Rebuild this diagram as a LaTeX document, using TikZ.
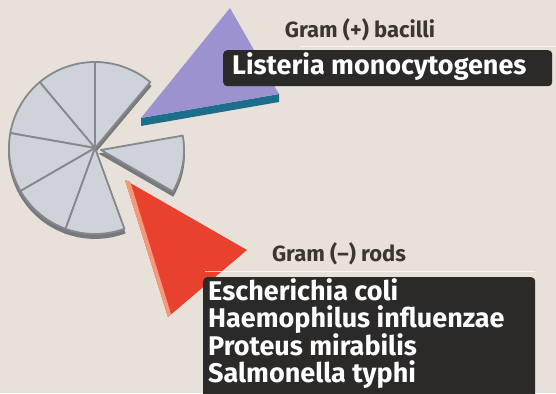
\documentclass[tikz,border=0pt]{standalone}
\usepackage{fontspec}
\setmainfont{Fira Sans}
\usetikzlibrary{positioning,calc}

\definecolor{bgbeige}{HTML}{E8E1D9}
\definecolor{slicefill}{HTML}{CED3DA}
\definecolor{sliceline}{HTML}{86888B}
\definecolor{slicerim}{HTML}{77797C}
\definecolor{gpurple}{HTML}{9B92CF}
\definecolor{gteal}{HTML}{1D6E8A}
\definecolor{gred}{HTML}{E8412E}
\definecolor{gredlight}{HTML}{F39A7C}
\definecolor{boxdark}{HTML}{2C2929}
\definecolor{labelgray}{HTML}{3A3634}

\tikzset{
  slice/.style={fill=slicefill, draw=sliceline, line width=1.8pt, line join=round},
  rim/.style={fill=slicerim, draw=slicerim, line width=1.8pt},
  groupname/.style={font=\bfseries\fontsize{22}{24}\selectfont, text=labelgray, inner sep=0pt},
  namebox/.style={fill=boxdark, rounded corners=4pt},
  species/.style={font=\bfseries\fontsize{27}{30}\selectfont, text=white, inner sep=0pt, anchor=base west}
}

\begin{document}
\begin{tikzpicture}[x=1pt, y=-1pt]
  \fill[bgbeige] (0,0) rectangle (556,393);
  \useasboundingbox (0,0) rectangle (556,393);

  % pie of gray slices (y runs downwards, so angles are negated)
  \coordinate (pc) at (95,148);
  \foreach \a/\b in {90/130, 130/170, 170/210, 210/250, 250/290, 50/90} {
    \draw[rim] ([yshift=-4pt]pc) -- ++(-\a:86) arc[start angle=-\a, end angle=-\b, radius=86] -- cycle;
  }
  \foreach \a/\b in {90/130, 130/170, 170/210, 210/250, 250/290, 50/90} {
    \draw[slice] (pc) -- ++(-\a:86) arc[start angle=-\a, end angle=-\b, radius=86] -- cycle;
  }
  \coordinate (pd) at (101,150);
  \draw[rim] ([yshift=-4pt]pd) -- ++(30:83) arc[start angle=30, end angle=-10, radius=83] -- cycle;
  \draw[slice] (pd) -- ++(30:83) arc[start angle=30, end angle=-10, radius=83] -- cycle;

  % Gram (+) wedge
  \coordinate (pa) at (141,118);
  \coordinate (pt) at (230,8);
  \coordinate (pr) at (279,94);
  \fill[gteal] (pa) -- (pr) -- ++(0,8) -- (141,126) -- cycle;
  \fill[gpurple] (pa) -- (pt) -- (pr) -- cycle;

  % Gram (-) wedge
  \coordinate (ra) at (125,180);
  \coordinate (rr) at (247,250);
  \coordinate (rb) at (168,317);
  \fill[gred] (ra) -- (rr) -- (rb) -- cycle;
  \fill[gredlight] (ra) -- ++(5,1) -- ($(rb)+(3,-3)$) -- (rb) -- cycle;

  % labels
  \node[groupname] (gpos) at (360,30) {Gram (+) bacilli};
  \draw[white, opacity=0.7, line width=1pt] (300,47) -- (556,47);
  \node[namebox, minimum width=329pt, minimum height=36pt, anchor=north west] (boxpos) at (223,50) {};
  \node[species] (listeria) at (232,75) {Listeria monocytogenes};

  \node[groupname] (gneg) at (339,254) {Gram (--) rods};
  \draw[white, opacity=0.7, line width=1pt] (205,271) -- (535,271);
  \node[namebox, minimum width=332pt, minimum height=130pt, anchor=north west] (boxneg) at (203,277) {};
  \foreach \txt [count=\i] in {Escherichia coli, Haemophilus influenzae, Proteus mirabilis, Salmonella typhi} {
    \node[species] (sp\i) at (208,{300+27.5*(\i-1)}) {\txt};
  }
\end{tikzpicture}
\end{document}
